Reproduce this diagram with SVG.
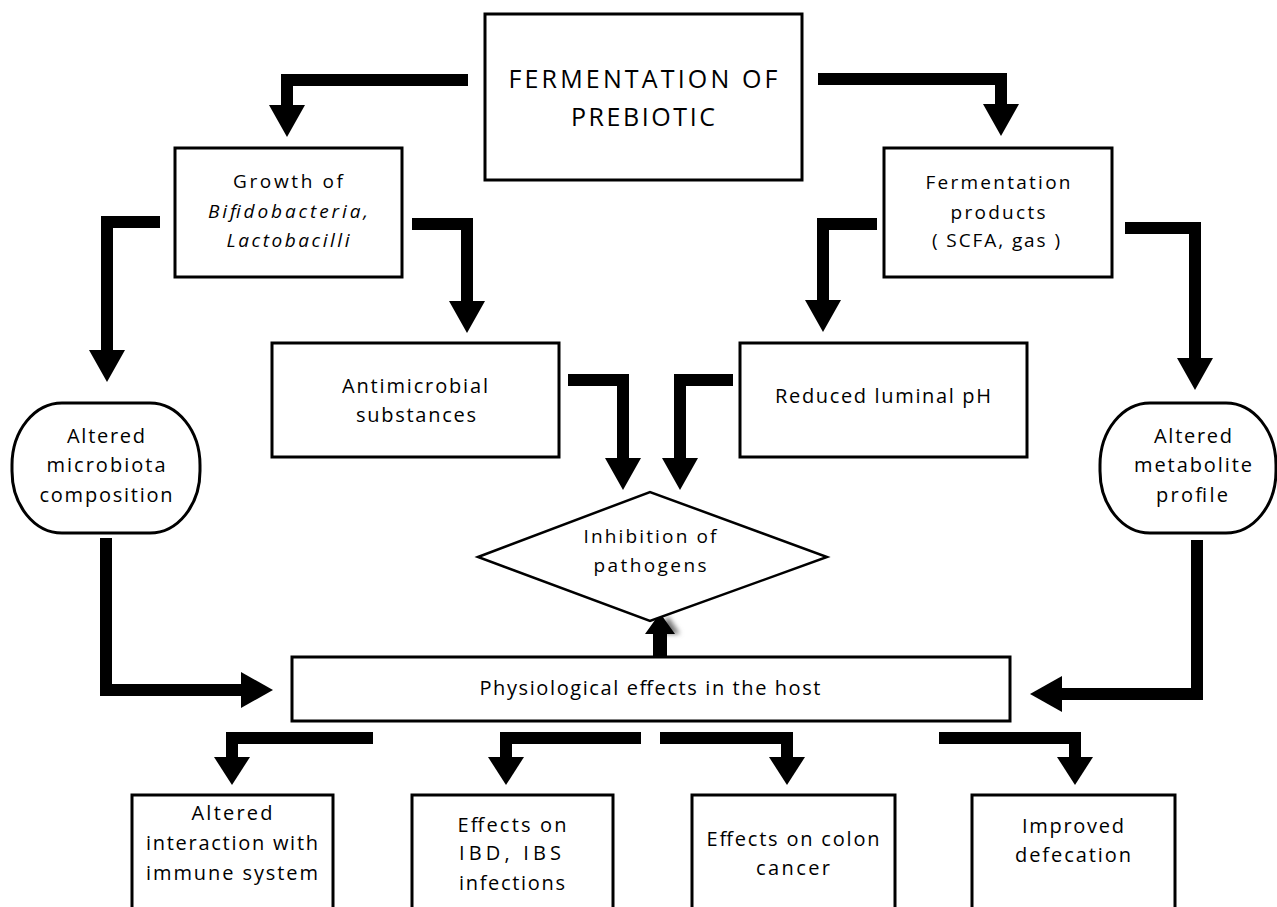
<svg xmlns="http://www.w3.org/2000/svg" width="1277" height="907" viewBox="0 0 1277 907">
<style>
.box{fill:#fff;stroke:#000;stroke-width:3}
.dia{fill:#fff;stroke:#000;stroke-width:2.5}
.t{font-family:"Open Sans","Liberation Sans",Arial,sans-serif;font-size:20px;fill:#000;text-anchor:middle}
.s{font-size:19px}
.title{font-size:25px}
.it{font-style:italic}
.c{fill:none;stroke:#000;stroke-width:12;stroke-linejoin:miter;stroke-linecap:butt;marker-end:url(#ah)}
.cb{fill:none;stroke:#000;stroke-width:12;stroke-linejoin:miter;stroke-linecap:butt;marker-end:url(#ahs)}
</style>
<defs>
<marker id="ah" markerUnits="userSpaceOnUse" viewBox="0 -18 32 36" refX="0" refY="0" markerWidth="32" markerHeight="36" orient="auto">
<path d="M0,-18 L32,0 L0,18 Z" fill="#000"/>
</marker>
<marker id="ahs" markerUnits="userSpaceOnUse" viewBox="0 -18 28 36" refX="0" refY="0" markerWidth="28" markerHeight="36" orient="auto">
<path d="M0,-18 L28,0 L0,18 Z" fill="#000"/>
</marker>
<filter id="blur" x="-50%" y="-50%" width="200%" height="200%">
<feGaussianBlur stdDeviation="2.5"/>
</filter>
</defs>
<rect width="1277" height="907" fill="#fff"/>

<g id="connectors">
<polyline class="c" points="468,80 287,80 287,105"/>
<polyline class="c" points="818,79 1001,79 1001,104"/>
<polyline class="c" points="160,222 107,222 107,350"/>
<polyline class="c" points="412,224 467,224 467,301"/>
<polyline class="c" points="877,224 823,224 823,300"/>
<polyline class="c" points="1125,228 1195,228 1195,358"/>
<polyline class="c" points="568,380 623,380 623,458"/>
<polyline class="c" points="733,380 680,380 680,458"/>
<polyline class="c" points="106,538 106,690 241,690"/>
<polyline class="c" points="1197,540 1197,694 1062,694"/>
<g id="up-arrow">
<path d="M664,657 L664,634 L676,634 L664,616 L652,634 L664,634 Z" fill="#777" filter="url(#blur)" transform="translate(4,0)"/>
<path d="M653,657 L653,634 L645,634 L660,613 L675,634 L667,634 L667,657 Z" fill="#000"/>
</g>
<polyline class="cb" points="373,738 232,738 232,757"/>
<polyline class="cb" points="641,738 506,738 506,757"/>
<polyline class="cb" points="660,738 787,738 787,757"/>
<polyline class="cb" points="939,738 1075,738 1075,757"/>
</g>

<g id="n-fermentation">
<rect class="box" x="485" y="14" width="317" height="166"/>
<text class="t title" x="643" y="88" textLength="269">FERMENTATION OF</text>
<text class="t title" x="643" y="126" textLength="144">PREBIOTIC</text>
</g>

<g id="n-growth">
<rect class="box" x="175" y="148" width="227" height="129"/>
<text class="t s" x="288" y="188" textLength="110">Growth of</text>
<text class="t s it" x="288" y="218" textLength="160">Bifidobacteria,</text>
<text class="t s it" x="288" y="247" textLength="123">Lactobacilli</text>
</g>

<g id="n-products">
<rect class="box" x="884" y="148" width="228" height="129"/>
<text class="t s" x="998" y="189" textLength="145">Fermentation</text>
<text class="t s" x="998" y="219" textLength="95">products</text>
<text class="t s" x="996" y="247" textLength="128">( SCFA, gas )</text>
</g>

<g id="n-antimicrobial">
<rect class="box" x="272" y="343" width="287" height="114"/>
<text class="t" x="415" y="393" textLength="146">Antimicrobial</text>
<text class="t" x="416" y="422" textLength="120">substances</text>
</g>

<g id="n-reduced">
<rect class="box" x="740" y="343" width="287" height="114"/>
<text class="t" x="883" y="403" textLength="216">Reduced luminal pH</text>
</g>

<g id="n-microbiota">
<rect class="box" x="12" y="403" width="188" height="130" rx="50" ry="62"/>
<text class="t" x="106" y="443" textLength="78">Altered</text>
<text class="t" x="106" y="472" textLength="119">microbiota</text>
<text class="t" x="106" y="502" textLength="133">composition</text>
</g>

<g id="n-metabolite">
<rect class="box" x="1100" y="403" width="176" height="130" rx="50" ry="62"/>
<text class="t" x="1193" y="443" textLength="78">Altered</text>
<text class="t" x="1193" y="472" textLength="118">metabolite</text>
<text class="t" x="1192" y="502" textLength="72">profile</text>
</g>

<g id="n-inhibition">
<polygon class="dia" points="478,557 650,492 827,557 650,621"/>
<text class="t s" x="650" y="543" textLength="133">Inhibition of</text>
<text class="t s" x="650" y="572" textLength="113">pathogens</text>
</g>

<g id="n-physiological">
<rect class="box" x="292" y="657" width="718" height="64"/>
<text class="t" x="650" y="695" textLength="341">Physiological effects in the host</text>
</g>

<g id="n-immune">
<rect class="box" x="132" y="795" width="201" height="130"/>
<text class="t" x="232" y="820" textLength="81">Altered</text>
<text class="t" x="232" y="850" textLength="172">interaction with</text>
<text class="t" x="232" y="880" textLength="172">immune system</text>
</g>

<g id="n-ibd">
<rect class="box" x="412" y="795" width="201" height="130"/>
<text class="t" x="512" y="832" textLength="109">Effects on</text>
<text class="t" x="510" y="860" textLength="102">IBD, IBS</text>
<text class="t" x="512" y="890" textLength="106">infections</text>
</g>

<g id="n-cancer">
<rect class="box" x="692" y="795" width="203" height="130"/>
<text class="t" x="793" y="846" textLength="173">Effects on colon</text>
<text class="t" x="793" y="875" textLength="74">cancer</text>
</g>

<g id="n-defecation">
<rect class="box" x="972" y="795" width="203" height="130"/>
<text class="t" x="1073" y="833" textLength="102">Improved</text>
<text class="t" x="1073" y="862" textLength="116">defecation</text>
</g>
</svg>
